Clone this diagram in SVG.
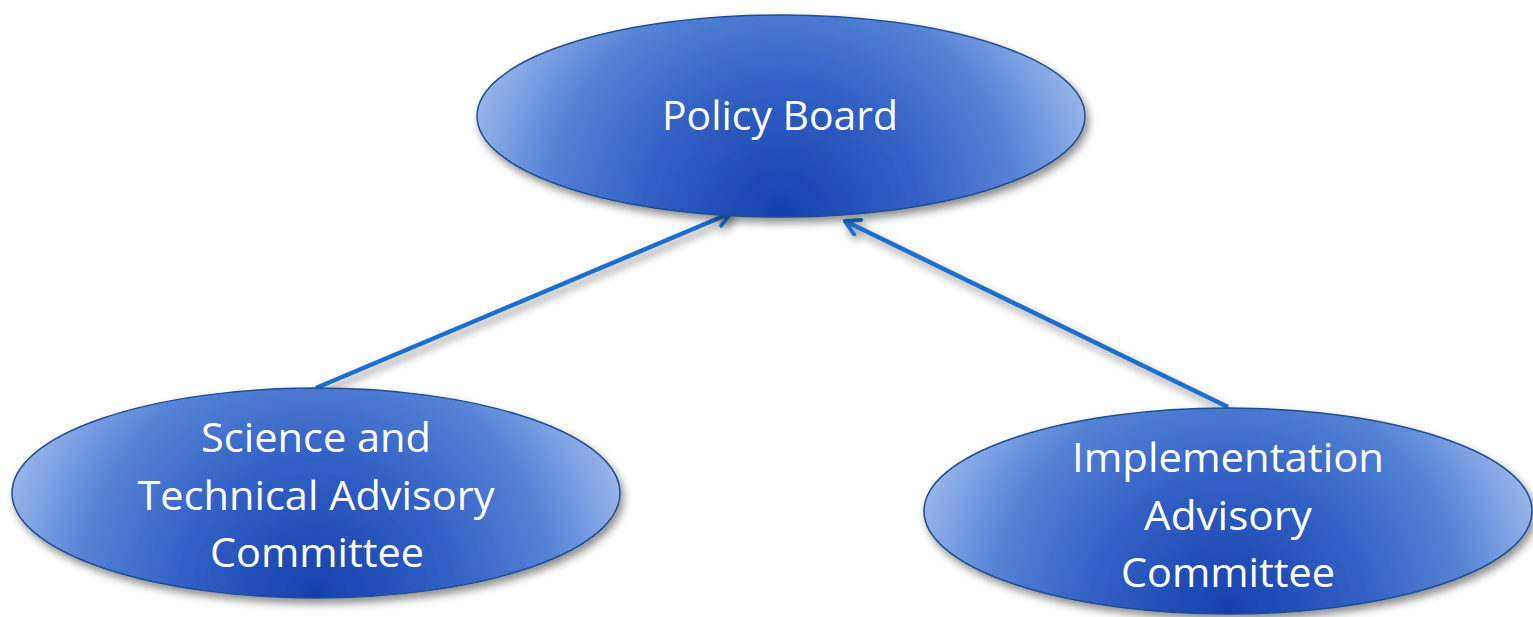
<svg xmlns="http://www.w3.org/2000/svg" width="1533" height="617" viewBox="0 0 1533 617">
<defs>
<radialGradient id="g" cx="0.5" cy="1" r="0.56" fx="0.5" fy="1" gradientTransform="translate(0.5,1) scale(1,2.9) translate(-0.5,-1)">
<stop offset="0" stop-color="#1540ad"/>
<stop offset="0.4" stop-color="#3260c4"/>
<stop offset="0.7" stop-color="#5583d6"/>
<stop offset="1" stop-color="#a6bfee"/>
</radialGradient>
<filter id="sh" x="-10%" y="-10%" width="125%" height="135%">
<feGaussianBlur in="SourceAlpha" stdDeviation="4"/>
<feOffset dx="3" dy="5" result="b"/>
<feComponentTransfer><feFuncA type="linear" slope="0.45"/></feComponentTransfer>
<feMerge><feMergeNode/><feMergeNode in="SourceGraphic"/></feMerge>
</filter>
<marker id="arr" viewBox="0 0 20 20" refX="17" refY="10" markerWidth="20" markerHeight="20" markerUnits="userSpaceOnUse" orient="auto">
<path d="M3,2 L17,10 L3,18" fill="none" stroke="#1f6fcc" stroke-width="4" stroke-linecap="round" stroke-linejoin="round"/>
</marker>
</defs>
<style>
.node{fill:url(#g);stroke:#1f4f8f;stroke-width:1.5;filter:url(#sh)}
.lbl{font-family:"Open Sans","Liberation Sans",Arial,sans-serif;font-size:41px;fill:#ffffff;text-anchor:middle}
.conn{stroke:#1f6fcc;stroke-width:4.5;fill:none;marker-end:url(#arr);filter:url(#sh)}
</style>
<g id="connectors">
<line class="conn" x1="316" y1="388" x2="731" y2="213"/>
<line class="conn" x1="1228" y1="407" x2="845" y2="221"/>
</g>
<g id="policy-board">
<ellipse class="node" cx="781" cy="116" rx="304" ry="101"/>
<text class="lbl" x="780" y="130" textLength="236" lengthAdjust="spacingAndGlyphs">Policy Board</text>
</g>
<g id="science-technical">
<ellipse class="node" cx="316" cy="493" rx="304" ry="105"/>
<text class="lbl" x="316" y="452" textLength="230" lengthAdjust="spacingAndGlyphs">Science and</text>
<text class="lbl" x="316" y="510" textLength="357" lengthAdjust="spacingAndGlyphs">Technical Advisory</text>
<text class="lbl" x="317" y="567" textLength="214" lengthAdjust="spacingAndGlyphs">Committee</text>
</g>
<g id="implementation">
<ellipse class="node" cx="1228" cy="511" rx="304" ry="103"/>
<text class="lbl" x="1228" y="472" textLength="312" lengthAdjust="spacingAndGlyphs">Implementation</text>
<text class="lbl" x="1228" y="530" textLength="168" lengthAdjust="spacingAndGlyphs">Advisory</text>
<text class="lbl" x="1228" y="587" textLength="214" lengthAdjust="spacingAndGlyphs">Committee</text>
</g>
</svg>
